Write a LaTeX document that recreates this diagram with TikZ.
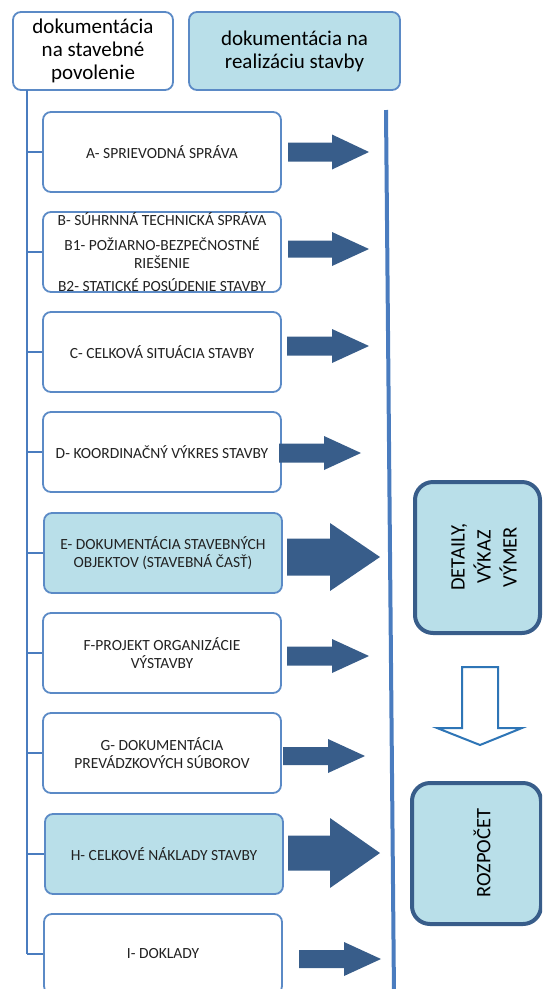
\documentclass[tikz,border=0pt]{standalone}
\usepackage{fontspec}
\setmainfont{Carlito}
\usetikzlibrary{positioning}
\definecolor{bordblue}{HTML}{5B8AC6}
\definecolor{fillblue}{HTML}{B9DFE9}
\definecolor{arrblue}{HTML}{385D8A}
\definecolor{linblue}{HTML}{4A7CBF}
\definecolor{hollblue}{HTML}{2E75B6}
\definecolor{txtgray}{HTML}{222222}
\tikzset{
  docbox/.style={draw=bordblue, line width=1.8pt, rounded corners=8pt, fill=white,
    minimum width=238pt, minimum height=80pt, inner sep=1pt, align=center,
    text=txtgray, font=\fontsize{15.5}{18}\selectfont},
  doctext/.style={align=center, text=txtgray, inner sep=0pt, font=\fontsize{15.5}{18}\selectfont},
  headbox/.style={draw=bordblue, line width=1.8pt, rounded corners=8pt,
    minimum height=78pt, align=center, font=\fontsize{21}{23}\selectfont},
  sumbox/.style={draw=arrblue, line width=4pt, rounded corners=18pt, fill=fillblue},
  sumtext/.style={rotate=90, align=center, font=\fontsize{20.5}{26}\selectfont}
}
\begin{document}
\begin{tikzpicture}[x=1pt,y=-1pt]
\useasboundingbox (0,0) rectangle (542,989);
\clip (0,0) rectangle (542,989);
% header boxes
\node[headbox, fill=white, minimum width=160pt] (perm) at (93,51) {dokumentácia\\na stavebné\\povolenie};
\node[headbox, fill=fillblue, minimum width=211pt] (real) at (294.5,51) {dokumentácia na\\realizáciu stavby};
% document parts
\node[docbox] (A) at (162,152) {A- SPRIEVODNÁ SPRÁVA};
\node[docbox] (B) at (162,252) {};
\node[doctext] at (B.center) {B- SÚHRNNÁ TECHNICKÁ SPRÁVA\\[7pt]B1- POŽIARNO-BEZPEČNOSTNÉ\\RIEŠENIE\\[5pt]B2- STATICKÉ POSÚDENIE STAVBY};
\node[docbox] (C) at (162,352) {C- CELKOVÁ SITUÁCIA STAVBY};
\node[docbox] (D) at (162,452) {D- KOORDINAČNÝ VÝKRES STAVBY};
\node[docbox, fill=fillblue] (E) at (163,553) {E- DOKUMENTÁCIA STAVEBNÝCH\\OBJEKTOV (STAVEBNÁ ČASŤ)};
\node[docbox] (F) at (162,653) {F-PROJEKT ORGANIZÁCIE\\VÝSTAVBY};
\node[docbox] (G) at (162,753) {G- DOKUMENTÁCIA\\PREVÁDZKOVÝCH SÚBOROV};
\node[docbox, fill=fillblue] (H) at (164,854) {H- CELKOVÉ NÁKLADY STAVBY};
\node[docbox] (I) at (163,954) {I- DOKLADY};
% tree
\coordinate (root) at (27,90);
\draw[linblue, line width=1.8pt] (root) -- (27,954);
\foreach \n in {A,B,C,D,E,F,G,H,I}
  \draw[linblue, line width=1.8pt] (\n.west -| root) -- (\n.west);
% right line
\draw[linblue, line width=4pt] (386,110) -- (394,995);
% block arrows
\foreach \xa/\xb/\xc/\yc/\sh/\hh in {288/332/369/152/9.5/17.5, 288/332/369/249/8.5/17,
    287/332/369/346/9.5/17, 279/324/361/453/9.5/17, 287/330/380/557/18.5/34,
    287/332/369/656/9.5/17, 283/328/365/756/9/17, 288/330/380/853/17.5/35,
    299/344/381/959/9/17}
  \fill[arrblue] (\xa,{\yc-\sh}) -- (\xb,{\yc-\sh}) -- (\xb,{\yc-\hh}) -- (\xc,\yc)
    -- (\xb,{\yc+\hh}) -- (\xb,{\yc+\sh}) -- (\xa,{\yc+\sh}) -- cycle;
% summary boxes
\node[sumbox, minimum width=125pt, minimum height=151pt] (det) at (477.5,557.5) {};
\node[sumtext] at (484,557) {DETAILY,\\VÝKAZ\\VÝMER};
\node[sumbox, minimum width=129pt, minimum height=141pt] (bud) at (476.5,853.5) {};
\node[sumtext] at (482,853) {ROZPOČET};
% hollow arrow
\draw[hollblue, line width=2pt, fill=white] (462,667) -- (498,667) -- (498,728) -- (522,728)
  -- (480,745) -- (437,728) -- (462,728) -- cycle;
\end{tikzpicture}
\end{document}
